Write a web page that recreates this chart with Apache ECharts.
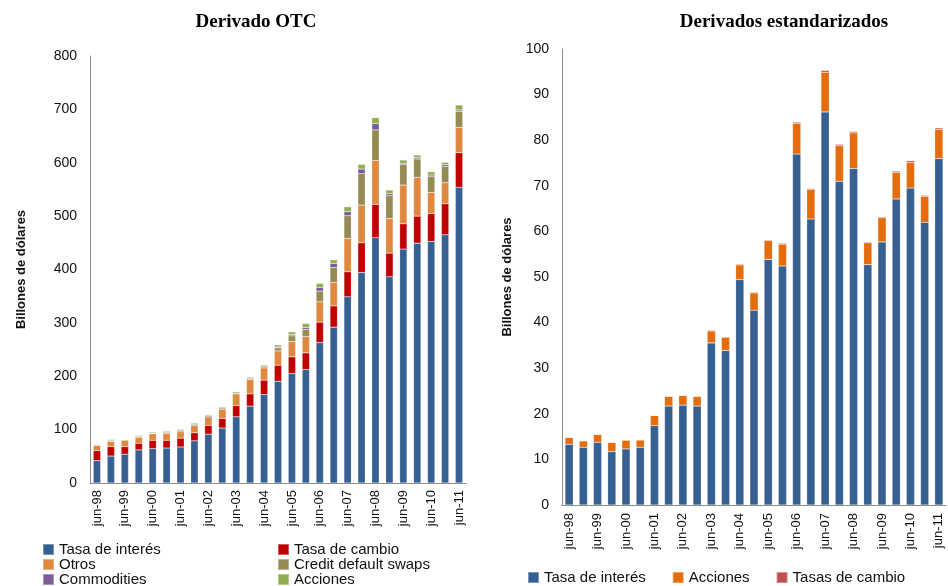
<!DOCTYPE html>
<html>
<head>
<meta charset="utf-8">
<script src="https://cdn.jsdelivr.net/npm/echarts@6/dist/echarts.min.js"></script>
<style>
  html, body { margin: 0; padding: 0; background: #fff; }
  #chart { width: 948px; height: 586px; }
</style>
</head>
<body>
<div id="chart"></div>
<script>
// semestres jun-98 ... jun-11
const periods = [
  "jun-98", "dic-98", "jun-99", "dic-99", "jun-00", "dic-00", "jun-01", "dic-01", "jun-02",
  "dic-02", "jun-03", "dic-03", "jun-04", "dic-04", "jun-05", "dic-05", "jun-06", "dic-06",
  "jun-07", "dic-07", "jun-08", "dic-08", "jun-09", "dic-09", "jun-10", "dic-10", "jun-11"
];

// Derivado OTC (billones de dólares)
const otcTasaInteres = [42, 50.5, 54, 62, 64.5, 65.5, 67.5, 79, 91.5, 103, 124, 144, 165.7, 190.7,
  205, 212.6, 263.2, 292, 348.8, 394.5, 459.4, 386.3, 438.2, 449.4, 452.6, 465, 553.9];
const otcTasaCambio = [18.5, 17.5, 14, 12.5, 15.5, 14.5, 16.5, 15, 16.5, 18, 21, 23, 27, 30,
  31.3, 31.2, 38.1, 39.9, 46.9, 55.5, 62.6, 44.4, 47.4, 50.6, 51.8, 58.1, 64.9];
const otcOtros = [10, 10, 12.5, 11.5, 12.5, 12.5, 12, 13.5, 16, 17.5, 22, 27, 23, 26.8,
  28.8, 30.7, 38.1, 43.9, 62.6, 70.7, 82.5, 65.1, 72.6, 72.6, 40.1, 39.4, 47.6];
const otcCds = [0, 0, 0, 0, 0, 0, 0, 0, 0, 0, 0, 0, 0, 5.7,
  10.6, 13.1, 20.1, 28.1, 42.4, 58.7, 56.9, 42.4, 38.1, 34.4, 29.3, 30.8, 30];
const otcCommodities = [0.5, 1.5, 0.3, 0.7, 0.7, 2, 2, 2, 2, 2, 1.5, 1.5, 2, 1.5,
  2.5, 3.8, 6.9, 7.5, 7.5, 8.8, 11.8, 3.7, 2.6, 2.5, 3.2, 3, 2.5];
const otcAcciones = [1.5, 2, 0.7, 2.3, 2, 2.5, 2.5, 2.5, 2, 2, 2.5, 2.5, 3, 4,
  5, 7.5, 7.5, 6.8, 9.3, 8.8, 11.2, 6.9, 6.2, 5, 6.2, 4.5, 9.3];

// Derivados estandarizados
const estTasaInteres = [13.3, 12.65, 13.75, 11.7, 12.3, 12.65, 17.4, 21.7, 21.9, 21.7, 35.55, 33.9,
  49.45, 42.7, 53.85, 52.4, 76.95, 62.7, 86.2, 71.0, 73.8, 52.7, 57.7, 67.1, 69.5, 62.0, 76.0];
const estAcciones = [1.5, 1.4, 1.7, 2.0, 1.9, 1.6, 2.2, 2.1, 2.1, 2.1, 2.6, 2.9, 3.2, 3.8,
  4.1, 4.8, 6.7, 6.5, 8.7, 7.8, 7.8, 4.8, 5.3, 5.8, 5.6, 5.7, 6.4];
const estTasasCambio = [0.1, 0.1, 0.1, 0.1, 0.1, 0.1, 0.1, 0.1, 0.1, 0.1, 0.2, 0.1, 0.2, 0.2,
  0.2, 0.2, 0.3, 0.2, 0.4, 0.3, 0.3, 0.2, 0.2, 0.3, 0.4, 0.2, 0.3];

const font = "Liberation Sans, Arial, sans-serif";
const serif = "Liberation Serif, Times New Roman, serif";
const axisGray = "#8c8c8c";

function xAxis(gridIndex, margin) {
  return {
    type: "category",
    gridIndex: gridIndex,
    data: periods,
    axisTick: { show: false },
    axisLine: { lineStyle: { color: axisGray, width: 1 } },
    axisLabel: {
      interval: 1,
      rotate: 90,
      margin: margin,
      fontFamily: font,
      fontSize: 13,
      color: "#111",
    },
  };
}

function yAxis(gridIndex, max, interval, nameGap) {
  return {
    type: "value",
    gridIndex: gridIndex,
    min: 0,
    max: max,
    interval: interval,
    name: "Billones de dólares",
    nameLocation: "middle",
    nameGap: nameGap,
    nameTextStyle: { fontFamily: font, fontSize: 13, fontWeight: "bold", color: "#111" },
    splitLine: { show: false },
    axisTick: { show: false },
    axisLine: { show: true, lineStyle: { color: axisGray, width: 1 } },
    axisLabel: { margin: 13, fontFamily: font, fontSize: 14, color: "#111" },
  };
}

function bar(name, data, color, idx, width) {
  return {
    name: name,
    type: "bar",
    stack: "s" + idx,
    xAxisIndex: idx,
    yAxisIndex: idx,
    barWidth: width,
    data: data,
    itemStyle: { color: color, borderColor: "rgba(255,255,255,0.35)", borderWidth: 0.5 },
  };
}

const legendText = { fontFamily: font, fontSize: 15, lineHeight: 14, color: "#111" };

function legendCol(names, left) {
  return {
    data: names,
    orient: "vertical",
    left: left,
    top: 542,
    height: 60,
    padding: 0,
    itemWidth: 11,
    itemHeight: 11,
    itemGap: 0,
    icon: "rect",
    textStyle: legendText,
  };
}

const chart = echarts.init(document.getElementById("chart"));
chart.setOption({
  animation: false,
  backgroundColor: "#fff",
  title: [
    {
      text: "Derivado OTC",
      left: 251,
      top: 8,
      textAlign: "center",
      textStyle: { fontFamily: serif, fontSize: 19, fontWeight: "bold", color: "#000" },
    },
    {
      text: "Derivados estandarizados",
      left: 779,
      top: 8,
      textAlign: "center",
      textStyle: { fontFamily: serif, fontSize: 19, fontWeight: "bold", color: "#000" },
    },
  ],
  legend: [
    legendCol(["Tasa de interés", "Otros", "Commodities"], 42),
    legendCol(["Tasa de cambio", "Credit default swaps", "Acciones"], 277),
    {
      data: ["Tasa de interés ", "Acciones ", "Tasas de cambio"],
      orient: "horizontal",
      left: 527,
      top: 570,
      padding: 0,
      itemWidth: 11,
      itemHeight: 11,
      itemGap: 26,
      icon: "rect",
      textStyle: legendText,
      formatter: (n) => n.trim(),
    },
  ],
  grid: [
    { left: 90, right: 482, top: 56, bottom: 103 },
    { left: 562, right: 2, top: 49, bottom: 81 },
  ],
  xAxis: [xAxis(0, 7), xAxis(1, 8)],
  yAxis: [yAxis(0, 800, 100, 62), yAxis(1, 100, 10, 48)],
  series: [
    bar("Tasa de interés", otcTasaInteres, "#376092", 0, "53%"),
    bar("Tasa de cambio", otcTasaCambio, "#C00000", 0, "53%"),
    bar("Otros", otcOtros, "#E0883F", 0, "53%"),
    bar("Credit default swaps", otcCds, "#948A54", 0, "53%"),
    bar("Commodities", otcCommodities, "#7B5C97", 0, "53%"),
    bar("Acciones", otcAcciones, "#8FAF4F", 0, "53%"),
    bar("Tasa de interés ", estTasaInteres, "#376092", 1, "58%"),
    bar("Acciones ", estAcciones, "#E46C0A", 1, "58%"),
    bar("Tasas de cambio", estTasasCambio, "#C0504D", 1, "58%"),
  ],
});
</script>
</body>
</html>
